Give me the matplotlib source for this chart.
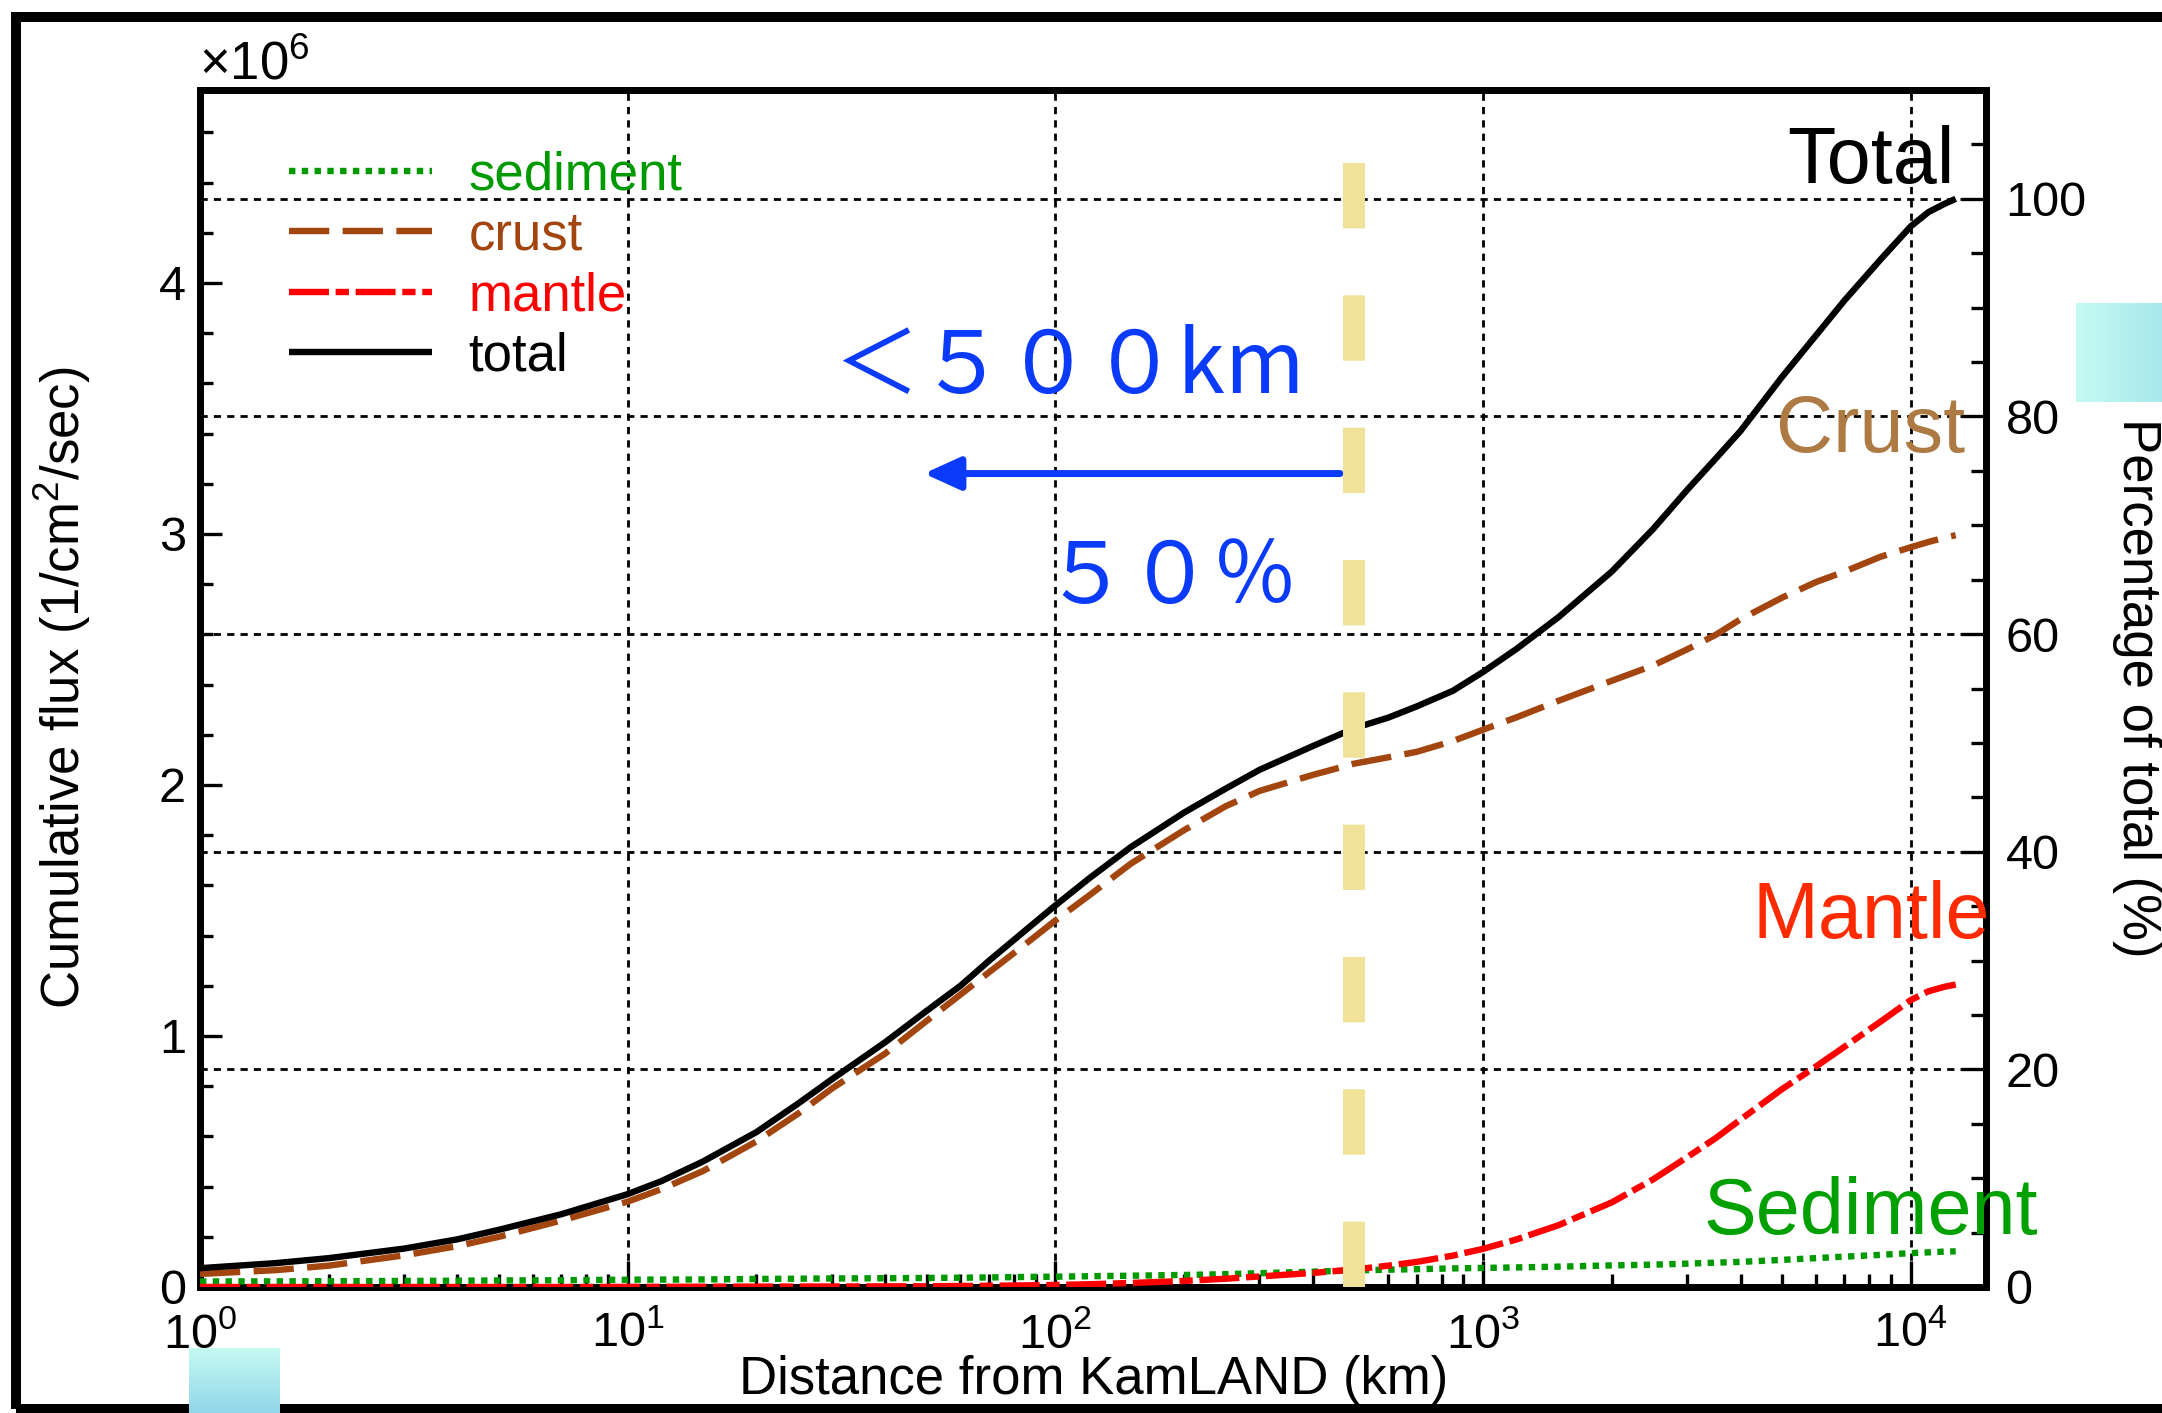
import numpy as np
import matplotlib
matplotlib.use('Agg')
import matplotlib.pyplot as plt
from matplotlib.patches import Rectangle
from matplotlib.ticker import MultipleLocator, LogLocator, NullFormatter

plt.rcParams['font.family'] = ['Liberation Sans', 'DejaVu Sans']
plt.rcParams['mathtext.default'] = 'regular'

# ---------------- data (cumulative flux, units of 1e6 /cm^2/s) ----------------
distance_km = [1, 1.5, 2, 3, 4, 5, 7, 10, 12, 15, 20, 25, 30, 40, 50, 60, 70, 85, 100,
               120, 150, 200, 250, 300, 400, 500, 600, 700, 850, 1000, 1200, 1500, 2000,
               2500, 3000, 3500, 4000, 5000, 6000, 7000, 8500, 10000, 11000, 12000, 12742]
total = [0.075, 0.095, 0.115, 0.153, 0.19, 0.228, 0.29, 0.37, 0.422, 0.50, 0.617, 0.73,
         0.827, 0.975, 1.10, 1.20, 1.30, 1.42, 1.52, 1.628, 1.752, 1.89, 1.985, 2.06,
         2.155, 2.226, 2.268, 2.313, 2.375, 2.45, 2.543, 2.668, 2.85, 3.02, 3.175, 3.30,
         3.41, 3.625, 3.79, 3.93, 4.093, 4.225, 4.282, 4.315, 4.335]
crust = [0.052, 0.067, 0.085, 0.126, 0.163, 0.20, 0.265, 0.34, 0.39, 0.462, 0.58, 0.69,
         0.79, 0.93, 1.06, 1.165, 1.254, 1.365, 1.46, 1.56, 1.686, 1.82, 1.915, 1.976,
         2.04, 2.085, 2.11, 2.132, 2.175, 2.22, 2.27, 2.335, 2.415, 2.476, 2.54, 2.598,
         2.66, 2.746, 2.808, 2.85, 2.909, 2.947, 2.968, 2.985, 2.995]
mantle = [0.0, 0.0, 0.0, 0.0, 0.0, 0.0, 0.0, 0.0005, 0.0007, 0.001, 0.0015, 0.0018, 0.002,
          0.0025, 0.003, 0.004, 0.005, 0.0065, 0.008, 0.011, 0.016, 0.024, 0.033, 0.042,
          0.056, 0.07, 0.085, 0.10, 0.125, 0.152, 0.19, 0.246, 0.337, 0.429, 0.517, 0.593,
          0.667, 0.788, 0.878, 0.957, 1.057, 1.143, 1.178, 1.196, 1.205]
sediment = [0.022, 0.0225, 0.023, 0.024, 0.025, 0.026, 0.027, 0.029, 0.0295, 0.030, 0.032,
            0.033, 0.034, 0.035, 0.036, 0.037, 0.038, 0.040, 0.041, 0.043, 0.045, 0.048,
            0.051, 0.055, 0.061, 0.066, 0.069, 0.071, 0.074, 0.076, 0.078, 0.081, 0.086,
            0.089, 0.093, 0.097, 0.100, 0.108, 0.115, 0.121, 0.128, 0.135, 0.138, 0.141,
            0.142]

legend_labels = ['sediment', 'crust', 'mantle', 'total']
curve_names = ['Total', 'Crust', 'Mantle', 'Sediment']
left_ticks = [0, 1, 2, 3, 4]
left_ticklabels = ['0', '1', '2', '3', '4']
right_ticks = [0, 20, 40, 60, 80, 100]
right_ticklabels = ['0', '20', '40', '60', '80', '100']
cut_km = 500
text_range = '＜５００km'
text_frac = '５０％'

# ---------------- styles ----------------
W, H, DPI = 2162, 1413, 100
SED_C = '#009a00'
CRU_C = '#a3450f'
MAN_C = '#ff0000'
TOT_C = '#000000'
BLUE = '#0a3afa'
YELLOW = '#f0e298'
LW = 4.6

def fx(px):
    return px / W

def fy(py):
    return 1 - py / H

fig = plt.figure(figsize=(W / DPI, H / DPI), dpi=DPI)
fig.patch.set_facecolor('white')

ax = fig.add_axes([fx(200), fy(1287), fx(1986) - fx(200), fy(90) - fy(1287)])
ax2 = ax.twinx()
ax.set_zorder(ax2.get_zorder() + 1)
ax.patch.set_visible(False)

ax.set_xscale('log')
ax.set_xlim(1, 15000)
ymax = 1.1 * total[-1]
ax.set_ylim(0, ymax)
ax2.set_ylim(0, 110)

# grid
grid_kw = dict(color='black', lw=2.0, linestyle=(0, (2.6, 2.2)))
ax.grid(True, axis='x', which='major', **grid_kw)
ax2.grid(True, axis='y', which='major', **grid_kw)

# curves
h_sed, = ax.plot(distance_km, sediment, color=SED_C, lw=LW, linestyle=(0, (1, 1)),
                 dash_capstyle='butt', zorder=3)
h_cru, = ax.plot(distance_km, crust, color=CRU_C, lw=LW, linestyle=(0, (6.3, 2.1)),
                 dash_capstyle='butt', zorder=3)
h_man, = ax.plot(distance_km, mantle, color=MAN_C, lw=LW,
                 linestyle=(0, (6.25, 1.05, 2.08, 1.05)), dash_capstyle='butt', zorder=3)
h_tot, = ax.plot(distance_km, total, color=TOT_C, lw=LW, solid_capstyle='butt',
                 solid_joinstyle='round', zorder=3)

# 500 km marker
ax.axvline(cut_km, ymin=0, ymax=(1287 - 156) / (1287 - 90), color=YELLOW, lw=15.8,
           linestyle=(0, (2.98, 3.05)), dash_capstyle='butt', zorder=5)

# arrow
arrow_y = (1287 - 472) / 251.5
ax.annotate('', xy=(49.3, arrow_y), xytext=(463, arrow_y),
            arrowprops=dict(arrowstyle='-|>,head_length=22,head_width=10', mutation_scale=1,
                            lw=5, color=BLUE, shrinkA=0, shrinkB=0), zorder=4)

# ticks
ax.xaxis.set_major_locator(LogLocator(base=10, numticks=10))
ax.xaxis.set_minor_locator(LogLocator(base=10, subs=np.arange(2, 10), numticks=20))
ax.xaxis.set_minor_formatter(NullFormatter())
ax.set_yticks(left_ticks)
ax.set_yticklabels(left_ticklabels)
ax.yaxis.set_minor_locator(MultipleLocator(0.2))
ax2.set_yticks(right_ticks)
ax2.set_yticklabels(right_ticklabels)
ax2.yaxis.set_minor_locator(MultipleLocator(5))

ax.tick_params(axis='x', which='major', direction='in', length=19, width=2.4, pad=18,
               labelsize=35, top=False)
ax.tick_params(axis='x', which='minor', direction='in', length=9.5, width=2.4, top=False)
ax.tick_params(axis='y', which='major', direction='in', length=16, width=2.4, pad=10,
               labelsize=35, right=False)
ax.tick_params(axis='y', which='minor', direction='in', length=9, width=2.4, right=False)
ax2.tick_params(axis='y', which='major', direction='in', length=18, width=2.4, pad=14,
                labelsize=35, left=False)
ax2.tick_params(axis='y', which='minor', direction='in', length=11, width=2.4, left=False)

for a in (ax, ax2):
    for s in a.spines.values():
        s.set_linewidth(5)

# legend
leg = ax.legend([h_sed, h_cru, h_man, h_tot], legend_labels, loc='upper left',
                bbox_to_anchor=(fx(289), fy(150)), bbox_transform=fig.transFigure,
                frameon=False, fontsize=38, handlelength=2.7, handletextpad=0.7,
                labelspacing=0.2, borderpad=0, borderaxespad=0, labelcolor='linecolor')
leg.set_zorder(6)

# axis labels and offset text
fig.text(fx(62), fy(688), 'Cumulative flux (1/cm$^{2}$/sec)', rotation=90, ha='center',
         va='center', fontsize=38)
fig.text(fx(1094), fy(1380), 'Distance from KamLAND (km)', ha='center', va='center',
         fontsize=38)
fig.text(fx(2137), fy(688), 'Percentage of total (%)', rotation=270, ha='center',
         va='center', fontsize=38)
fig.text(fx(199), fy(79), '×$\\mathdefault{10^{6}}$', ha='left', va='baseline', fontsize=38)

# curve names
name_colors = ['#000000', '#ae7a44', '#ff2a00', '#00a000']
name_baselines = [183, 452, 938, 1234]
for name, col, yb in zip(curve_names, name_colors, name_baselines):
    fig.text(fx(1871), fy(yb), name, ha='center', va='baseline', fontsize=57, color=col,
             zorder=7)

# blue annotation texts
cjk = ['Noto Sans CJK JP', 'DejaVu Sans']
fig.text(fx(834), fy(393), text_range, ha='left', va='baseline', fontsize=62, color=BLUE,
         family=cjk)
fig.text(fx(1043), fy(603), text_frac, ha='left', va='baseline', fontsize=61, color=BLUE,
         family=cjk)

# outer slide frame
frame = Rectangle((fx(16), fy(1409)), fx(2250) - fx(16), fy(17) - fy(1409),
                  transform=fig.transFigure, fill=False, lw=7.2, ec='black', zorder=10)
fig.add_artist(frame)

# decorative cyan boxes from the slide
def gradient_box(x0, y0, x1, y1, c0, c1, vertical):
    a = fig.add_axes([fx(x0), fy(y1), fx(x1) - fx(x0), fy(y0) - fy(y1)])
    a.set_zorder(20)
    a.set_axis_off()
    t = np.linspace(0, 1, 64)
    r0 = np.array(matplotlib.colors.to_rgb(c0))
    r1 = np.array(matplotlib.colors.to_rgb(c1))
    cols = r0[None, :] * (1 - t[:, None]) + r1[None, :] * t[:, None]
    img = cols[:, None, :] if vertical else cols[None, :, :]
    a.imshow(img, aspect='auto', extent=[0, 1, 0, 1], origin='upper')

gradient_box(2076, 303, 2170, 402, '#c4faf2', '#a6e6ec', vertical=False)
gradient_box(189, 1348, 280, 1420, '#c6faf2', '#8cd2e8', vertical=True)

fig.savefig('out.png', dpi=DPI)
